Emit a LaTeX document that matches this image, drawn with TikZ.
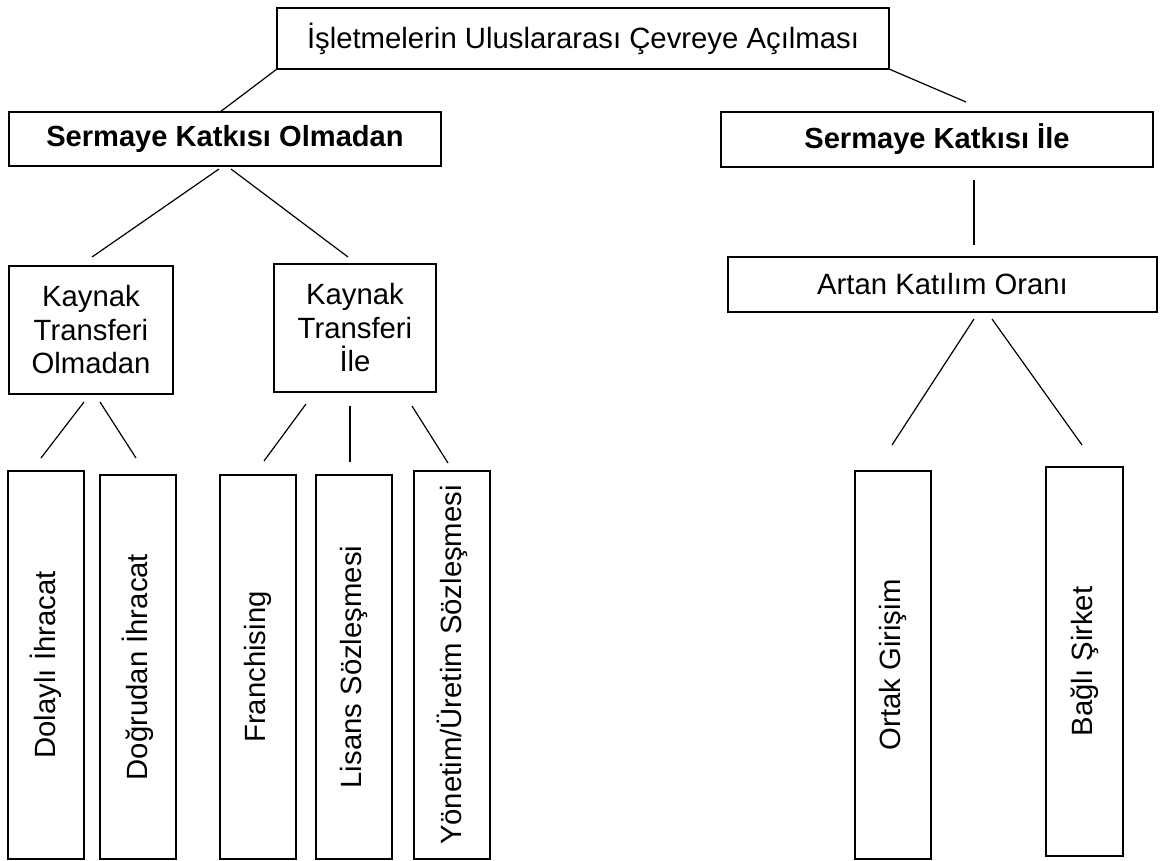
\documentclass[tikz,border=0pt]{standalone}
\usepackage{fontspec}
\usepackage{graphicx}
\setmainfont{Liberation Sans}
\usetikzlibrary{calc}
\begin{document}
\begin{tikzpicture}[x=1pt,y=-1pt,
  box/.style={draw, line width=1.9pt, inner sep=0pt, outer sep=0pt, anchor=north west,
    align=center, font=\fontsize{29.3}{33.5}\selectfont},
  head/.style={box, font=\bfseries\fontsize{29.1}{33}\selectfont},
  tall/.style={box, minimum width=76pt},
  link/.style={line width=1.2pt}]
\useasboundingbox (0,0) rectangle (1160,860);

% levels 0-1
\node[box, minimum width=612pt, minimum height=61pt] (top) at (277,8)
  {İşletmelerin Uluslararası Çevreye Açılması};
\node[head, minimum width=432pt, minimum height=54pt] (so) at (9,112) {Sermaye Katkısı Olmadan};
\node[head, minimum width=432pt, minimum height=55pt] (si) at (721,112) {Sermaye Katkısı İle};

% level 2
\node[box, minimum width=164pt, minimum height=128pt] (ko) at (9,266) {Kaynak\\Transferi\\Olmadan};
\node[box, minimum width=162pt, minimum height=128pt] (ki) at (274,264) {Kaynak\\Transferi\\İle};
\node[box, minimum width=429pt, minimum height=55pt] (ar) at (728,257) {Artan Katılım Oranı};

% level 3: tall boxes with rotated labels
\node[tall, minimum height=388pt] (dol) at (8,471)    {\rotatebox{90}{Dolaylı İhracat}};
\node[tall, minimum height=384pt] (dog) at (100,475)  {\rotatebox{90}{Doğrudan İhracat}};
\node[tall, minimum height=384pt] (fr)  at (220,475)  {\rotatebox{90}{Franchising}};
\node[tall, minimum height=384pt] (lis) at (316,475)  {\rotatebox{90}{Lisans Sözleşmesi}};
\node[tall, minimum height=388pt] (yon) at (414,471)  {\rotatebox{90}{Yönetim/Üretim Sözleşmesi}};
\node[tall, minimum height=388pt] (ort) at (855,471)  {\rotatebox{90}{Ortak Girişim}};
\node[tall, minimum height=389pt, minimum width=77pt] (bag) at (1046,467) {\rotatebox{90}{Bağlı Şirket}};

% connectors
\draw[link] (top.south west) -- ($(so.north west)+(211,0)$);
\draw[link] (top.south east) -- ($(si.north west)+(245,-10)$);
\draw[link] ($(so.south west)+(210,3)$) -- ($(ko.north west)+(83,-9)$);
\draw[link] ($(so.south west)+(222,3)$) -- ($(ki.north west)+(74,-7)$);
\draw[link] ($(ko.south west)+(75,8)$) -- ($(dol.north west)+(33,-13)$);
\draw[link] ($(ko.south west)+(91,8)$) -- ($(dog.north west)+(36,-17)$);
\draw[link] ($(ki.south west)+(32,12)$) -- ($(fr.north west)+(44,-14)$);
\draw[link] ($(ki.south west)+(76,14)$) -- ($(lis.north west)+(34,-13)$);
\draw[link] ($(ki.south west)+(138,14)$) -- ($(yon.north west)+(34,-8)$);
\draw[link] ($(si.south west)+(253,13)$) -- ($(ar.north west)+(246,-12)$);
\draw[link] ($(ar.south west)+(246,7)$) -- ($(ort.north west)+(37,-26)$);
\draw[link] ($(ar.south west)+(264,7)$) -- ($(bag.north west)+(36,-22)$);
\end{tikzpicture}
\end{document}
